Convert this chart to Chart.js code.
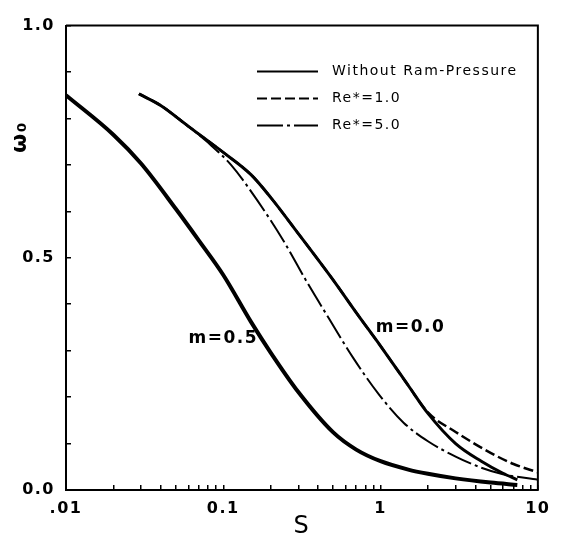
<!DOCTYPE html>
<html>
<head>
<meta charset="utf-8">
<script src="https://cdn.jsdelivr.net/npm/chart.js@4.4.1/dist/chart.umd.min.js"></script>
<style>
  html, body { margin: 0; padding: 0; background: #fff; }
  canvas { display: block; }
</style>
</head>
<body>
<canvas id="omegaChart" width="563" height="535"></canvas>
<script>
// m = 0.5 : the three cases fall on one thick curve
var s_m05 = [0.01, 0.02, 0.03, 0.05, 0.07, 0.1, 0.15, 0.2, 0.3, 0.5, 0.7, 1.0, 1.5, 2.0, 3.0, 5.0, 7.4];
var w_m05 = [0.850, 0.765, 0.703, 0.605, 0.537, 0.463, 0.362, 0.296, 0.211, 0.124, 0.087, 0.062, 0.044, 0.035, 0.025, 0.016, 0.011];

// m = 0.0, without ram-pressure (solid)
var s_m00 = [0.0291, 0.04, 0.06, 0.1, 0.15, 0.2, 0.3, 0.5, 0.7, 1.0, 1.5, 2.0, 3.0, 4.37, 6.0, 7.4];
var w_m00 = [0.853, 0.828, 0.783, 0.727, 0.679, 0.630, 0.552, 0.452, 0.382, 0.310, 0.225, 0.165, 0.100, 0.062, 0.036, 0.022];

// m = 0.0, Re* = 1.0 (dashed)
var s_re1 = [0.0291, 0.04, 0.06, 0.1, 0.15, 0.2, 0.3, 0.5, 0.7, 1.0, 1.5, 2.0, 3.0, 5.0, 7.0, 10];
var w_re1 = [0.853, 0.828, 0.783, 0.727, 0.679, 0.630, 0.552, 0.452, 0.382, 0.310, 0.225, 0.167, 0.125, 0.080, 0.056, 0.038];

// m = 0.0, Re* = 5.0 (dash-dot)
var s_re5 = [0.0291, 0.04, 0.06, 0.08, 0.112, 0.165, 0.243, 0.34, 0.476, 0.668, 0.98, 1.4, 2.0, 3.0, 4.37, 6.0, 10];
var w_re5 = [0.853, 0.828, 0.783, 0.748, 0.700, 0.623, 0.535, 0.448, 0.366, 0.285, 0.205, 0.145, 0.105, 0.072, 0.048, 0.034, 0.022];

var legendNames = ['Without Ram-Pressure', 'Re*=1.0', 'Re*=5.0'];

var xMajor = [0.01, 0.1, 1, 10];
var xMajorLabels = ['.01', '0.1', '1', '10'];
var yTicks = [0, 0.1, 0.2, 0.3, 0.4, 0.5, 0.6, 0.7, 0.8, 0.9, 1.0];
var yLabelValues = [0, 0.5, 1.0];
var yLabelTexts = ['0.0', '0.5', '1.0'];

var noteTexts = ['m=0.5', 'm=0.0'];
var noteS = [0.1, 1.55];
var noteW = [0.327, 0.350];

function pts(xs, ys) {
  return xs.map(function (x, i) { return { x: x, y: ys[i] }; });
}

// minor ticks 2..9 inside each decade
var xTickValues = [];
for (var d = 0; d < xMajor.length; d++) {
  xTickValues.push(xMajor[d]);
  if (d < xMajor.length - 1) {
    for (var k = 2; k <= 9; k++) xTickValues.push(parseFloat((k * xMajor[d]).toPrecision(3)));
  }
}

var frame = {
  id: 'frame',
  beforeDraw: function (chart) {
    chart.ctx.letterSpacing = '1.5px';
  },
  afterDatasetsDraw: function (chart) {
    var ctx = chart.ctx;
    var a = chart.chartArea;
    ctx.save();
    ctx.strokeStyle = '#000';
    ctx.lineWidth = 2;
    ctx.beginPath();
    ctx.moveTo(a.left, a.top);
    ctx.lineTo(a.right, a.top);
    ctx.lineTo(a.right, a.bottom);
    ctx.stroke();

    // legend
    var sets = [chart.data.datasets[1], chart.data.datasets[2], chart.data.datasets[3]];
    var x0 = a.left + 191, x1 = a.left + 252, tx = a.left + 266;
    ctx.font = '14px "DejaVu Sans"';
    ctx.textBaseline = 'middle';
    ctx.textAlign = 'left';
    ctx.fillStyle = '#000';
    for (var i = 0; i < sets.length; i++) {
      var y = a.top + 46 + i * 27;
      ctx.setLineDash(sets[i].borderDash || []);
      ctx.lineWidth = 2;
      ctx.beginPath();
      ctx.moveTo(x0, y);
      ctx.lineTo(x1, y);
      ctx.stroke();
      ctx.setLineDash([]);
      ctx.fillText(legendNames[i], tx, y);
    }

    // curve notes
    var xs = chart.scales.x, ys = chart.scales.y;
    ctx.font = 'bold 17px "DejaVu Sans"';
    ctx.textAlign = 'center';
    for (var j = 0; j < noteTexts.length; j++) {
      ctx.fillText(noteTexts[j], xs.getPixelForValue(noteS[j]), ys.getPixelForValue(noteW[j]));
    }

    // y axis title
    ctx.font = 'bold 22px "DejaVu Sans"';
    ctx.translate(20, ys.getPixelForValue(0.76));
    ctx.rotate(-Math.PI / 2);
    ctx.fillText('ω₀', 0, 0);
    ctx.restore();
  }
};

var lineBase = { borderColor: '#000', pointRadius: 0, fill: false, tension: 0.4, cubicInterpolationMode: 'monotone' };

new Chart(document.getElementById('omegaChart'), {
  type: 'line',
  data: {
    datasets: [
      Object.assign({ label: 'm=0.5', data: pts(s_m05, w_m05), borderWidth: 4 }, lineBase),
      Object.assign({ label: legendNames[0], data: pts(s_m00, w_m00), borderWidth: 3 }, lineBase),
      Object.assign({ label: legendNames[1], data: pts(s_re1, w_re1), borderWidth: 2.5, borderDash: [10, 4] }, lineBase),
      Object.assign({ label: legendNames[2], data: pts(s_re5, w_re5), borderWidth: 2, borderDash: [26, 4, 3, 4] }, lineBase)
    ]
  },
  options: {
    responsive: false,
    animation: false,
    layout: { padding: { left: 0, top: 19, right: 19, bottom: 0 } },
    plugins: { legend: { display: false }, tooltip: { enabled: false } },
    scales: {
      x: {
        type: 'logarithmic',
        min: 0.01,
        max: 10,
        afterBuildTicks: function (scale) {
          scale.ticks = xTickValues.map(function (v) { return { value: v }; });
        },
        afterFit: function (scale) { scale.height = 45; },
        ticks: {
          autoSkip: false,
          maxRotation: 0,
          padding: 14,
          color: '#000',
          font: { family: 'DejaVu Sans', weight: 'bold', size: 16 },
          callback: function (value) {
            var i = xMajor.indexOf(value);
            return i >= 0 ? xMajorLabels[i] : '';
          }
        },
        grid: { drawOnChartArea: false, drawTicks: true, tickLength: -5, color: '#000', lineWidth: 1.5 },
        border: { display: true, color: '#000', width: 2 },
        title: {
          display: true,
          text: 'S',
          color: '#000',
          font: { family: 'DejaVu Sans', size: 24 },
          padding: { top: 0, bottom: -6 }
        }
      },
      y: {
        type: 'linear',
        min: 0,
        max: 1,
        afterBuildTicks: function (scale) {
          scale.ticks = yTicks.map(function (v) { return { value: v }; });
        },
        afterFit: function (scale) { scale.width = 66; },
        ticks: {
          autoSkip: false,
          padding: 16,
          color: '#000',
          font: { family: 'DejaVu Sans', weight: 'bold', size: 16 },
          callback: function (value) {
            for (var i = 0; i < yLabelValues.length; i++) {
              if (Math.abs(value - yLabelValues[i]) < 1e-6) return yLabelTexts[i];
            }
            return '';
          }
        },
        grid: { drawOnChartArea: false, drawTicks: true, tickLength: -5, color: '#000', lineWidth: 1.5 },
        border: { display: true, color: '#000', width: 2 }
      }
    }
  },
  plugins: [frame]
});
</script>
</body>
</html>
